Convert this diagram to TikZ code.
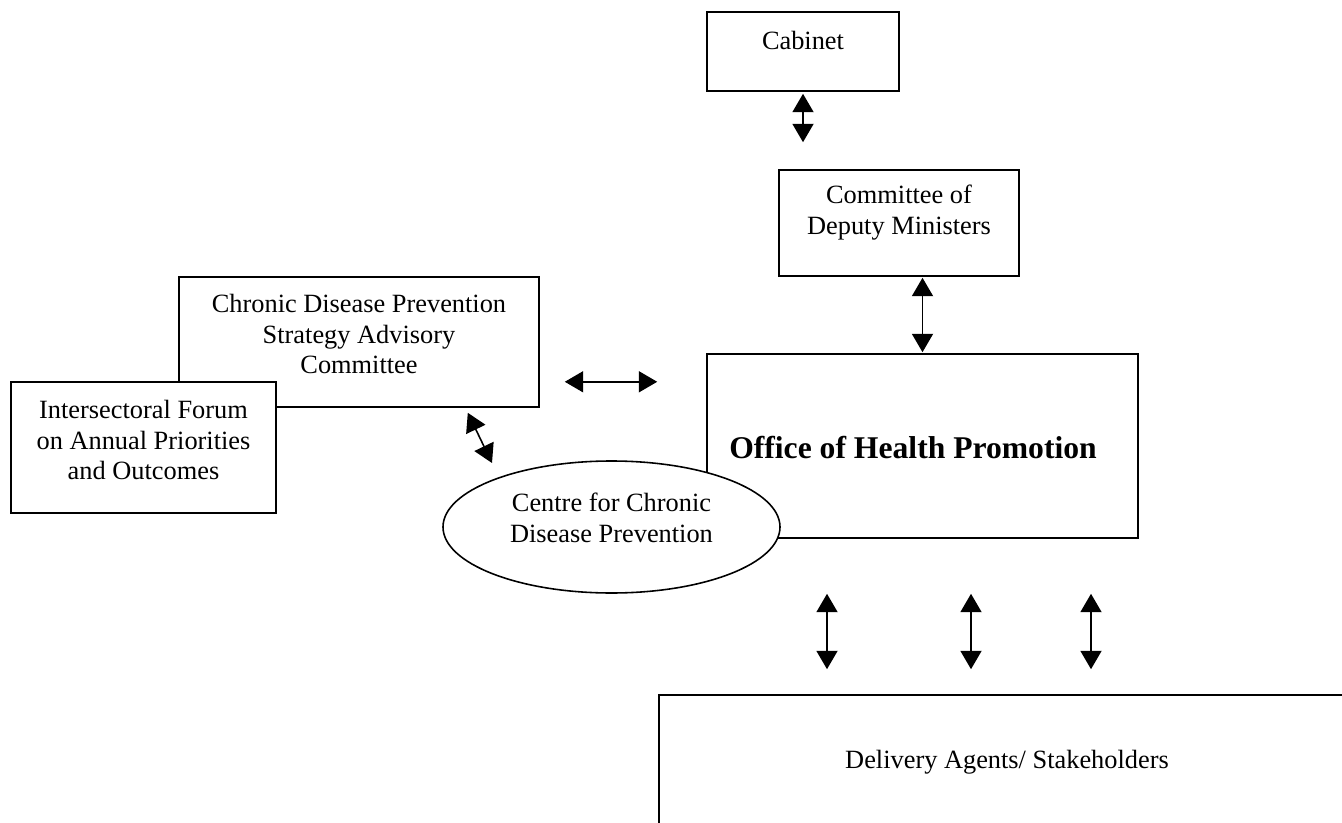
\documentclass[tikz,border=0pt]{standalone}
\usepackage{fontspec}
\setmainfont{Liberation Serif}
\usepackage{tikz}
\usetikzlibrary{positioning,shapes.geometric,arrows.meta}

\begin{document}
\begin{tikzpicture}[boxnode/.style={rectangle, draw=black, fill=white, line width=0.9pt, inner sep=0pt},
        ovalnode/.style={ellipse, draw=black, fill=white, line width=0.9pt, inner sep=0pt},
        textnode/.style={align=center, inner sep=0pt, font=\fontsize{15}{17.25}\selectfont},
        twoway/.style={line width=0.9pt, {Triangle[length=10.5pt, width=12pt]}-{Triangle[length=10.5pt, width=12pt]}}]

        \useasboundingbox (0,0) rectangle (26.84,16.44);

        % boxes
        \node[boxnode, minimum width=3.84cm, minimum height=1.58cm] (cabinet) at (16.06,15.41) {};
        \node[boxnode, minimum width=4.8cm, minimum height=2.12cm] (deputies) at (17.98,11.98) {};
        \node[boxnode, minimum width=7.2cm, minimum height=2.6cm] (advisory) at (7.18,9.60) {};
        \node[boxnode, minimum width=5.3cm, minimum height=2.62cm] (forum) at (2.87,7.49) {};
        \node[boxnode, minimum width=8.62cm, minimum height=3.68cm] (office) at (18.45,7.52) {};
        \node[ovalnode, minimum width=6.74cm, minimum height=2.64cm] (centre) at (12.23,5.90) {};
        \node[boxnode, minimum width=14.82cm, minimum height=3.54cm] (delivery) at (20.59,0.77) {};

        % texts
        \node[textnode] (cabinettext) at ([yshift=0.23cm]cabinet.center) {Cabinet};
        \node[textnode] (deputiestext) at ([yshift=0.21cm]deputies.center) {Committee of\\Deputy Ministers};
        \node[textnode] (advisorytext) at ([yshift=0.16cm]advisory.center) {Chronic Disease Prevention\\Strategy Advisory\\Committee};
        \node[textnode] (forumtext) at ([yshift=0.15cm]forum.center) {Intersectoral Forum\\on Annual Priorities\\and Outcomes};
        \node[textnode, font=\fontsize{18}{21}\selectfont\bfseries] (officetext) at ([xshift=-0.19cm, yshift=-0.04cm]office.center) {Office of Health Promotion};
        \node[textnode] (centretext) at ([yshift=0.18cm]centre.center) {Centre for Chronic\\Disease Prevention};
        \node[textnode] (deliverytext) at (20.14,1.20) {Delivery Agents/ Stakeholders};

        % arrows
        \draw[twoway, shorten <=0.04cm, shorten >=0.54cm] (cabinet.south) -- (cabinet.south |- deputies.north);
        \draw[twoway, shorten <=0.02cm, shorten >=0.02cm] (office.north |- deputies.south) -- (office.north);
        \coordinate (hstart) at ([shift={(0.5cm,0.52cm)}]advisory.south east);
        \draw[twoway] (hstart) -- ([xshift=-0.98cm]office.west |- hstart);
        \draw[twoway] ([shift={(-1.44cm,-0.1cm)}]advisory.south east) -- ([shift={(-2.39cm,1.28cm)}]centre.center);
        \foreach \dx in {-1.91,0.97,3.37}
            \draw[twoway, shorten <=1.1cm, shorten >=0.5cm] ([xshift=\dx cm]office.south) -- ([xshift=\dx cm]office.south |- delivery.north);

\end{tikzpicture}
\end{document}
